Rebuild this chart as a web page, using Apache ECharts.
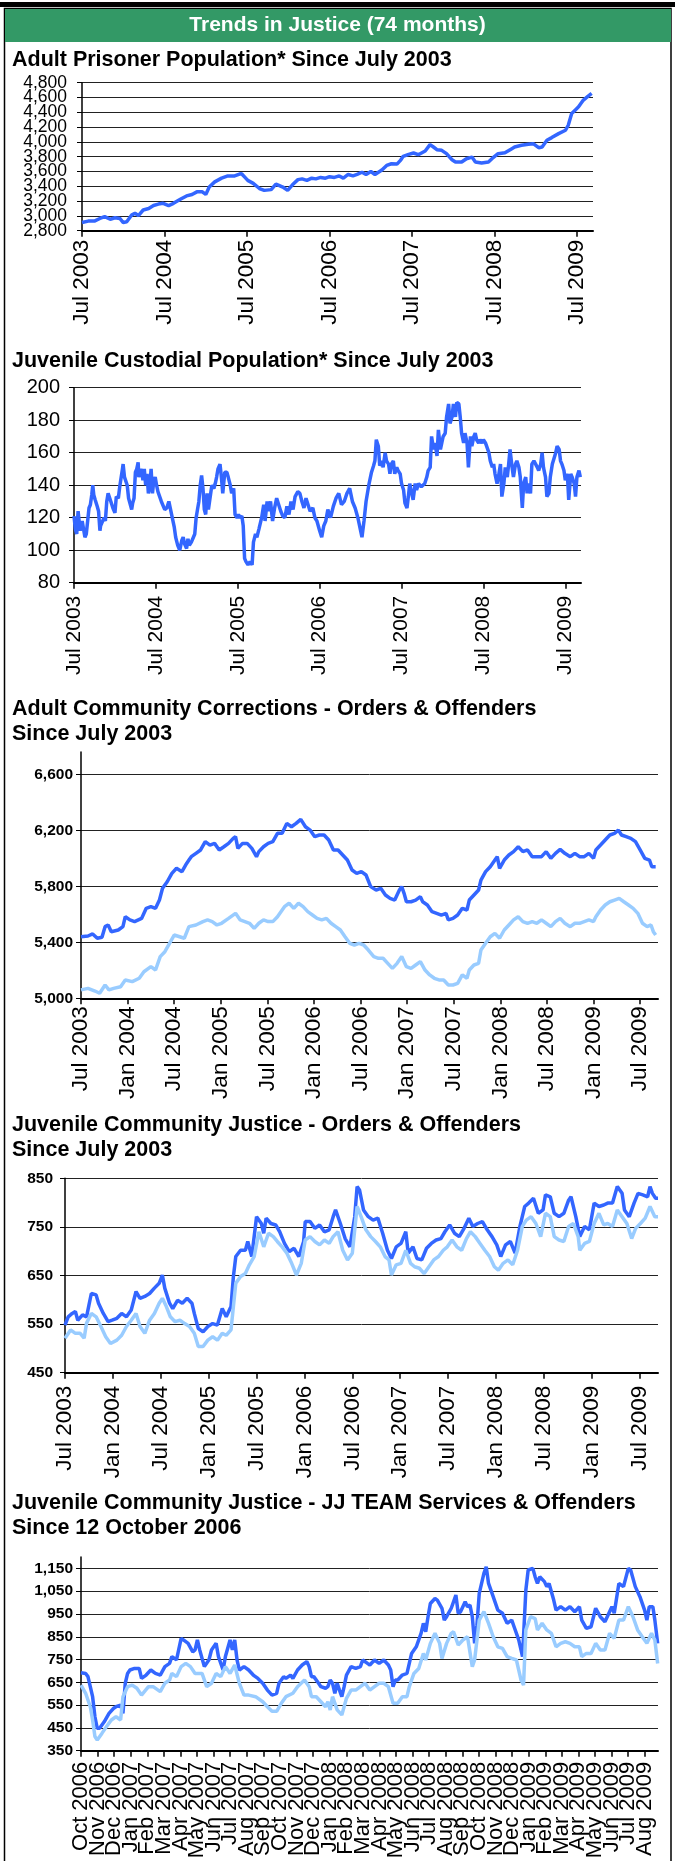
<!DOCTYPE html>
<html><head><meta charset="utf-8">
<script src="https://cdn.jsdelivr.net/npm/echarts@6/dist/echarts.min.js"></script>
<style>html,body{margin:0;padding:0;background:#fff}#c{width:675px;height:1861px}</style>
</head><body><div id="c"></div>
<script>
const FONT = "'Liberation Sans', Arial, Helvetica, sans-serif";
const DARK = '#3366FF', LIGHT = '#99CCFF';

// ---- axis tick labels ----
const yearTicks = [0, 12, 24, 36, 48, 60, 72];
const yearLabels = ['Jul 2003','Jul 2004','Jul 2005','Jul 2006','Jul 2007','Jul 2008','Jul 2009'];
const halfTicks = [0, 6, 12, 18, 24, 30, 36, 42, 48, 54, 60, 66, 72];
const halfLabels = ['Jul 2003','Jan 2004','Jul 2004','Jan 2005','Jul 2005','Jan 2006','Jul 2006','Jan 2007','Jul 2007','Jan 2008','Jul 2008','Jan 2009','Jul 2009'];
const monthTicks = [0,1,2,3,4,5,6,7,8,9,10,11,12,13,14,15,16,17,18,19,20,21,22,23,24,25,26,27,28,29,30,31,32,33,34];
const monthLabels = ['Oct 2006','Nov 2006','Dec 2006','Jan 2007','Feb 2007','Mar 2007','Apr 2007','May 2007','Jun 2007','Jul 2007','Aug 2007','Sep 2007','Oct 2007','Nov 2007','Dec 2007','Jan 2008','Feb 2008','Mar 2008','Apr 2008','May 2008','Jun 2008','Jul 2008','Aug 2008','Sep 2008','Oct 2008','Nov 2008','Dec 2008','Jan 2009','Feb 2009','Mar 2009','Apr 2009','May 2009','Jun 2009','Jul 2009','Aug 2009'];
const prisonTicks = [2800,3000,3200,3400,3600,3800,4000,4200,4400,4600,4800];
const prisonLabels = ['2,800','3,000','3,200','3,400','3,600','3,800','4,000','4,200','4,400','4,600','4,800'];
const custodyTicks = [80,100,120,140,160,180,200];
const accTicks = [5000,5400,5800,6200,6600];
const jcjTicks = [450,550,650,750,850];
const teamTicks = [350,450,550,650,750,850,950,1050,1150];

// ---- 1. Adult prisoner population (x = months since Jul 2003) ----
const prisonMonths = [0,0.9,1.8,2.6,3.3,4.1,4.8,5.5,6.0,6.5,7.2,7.7,8.2,8.9,9.7,10.4,11.1,11.8,12.6,13.3,14.3,15.2,16.0,16.7,17.5,18.0,18.5,19.3,20.3,21.2,22.2,22.9,23.2,23.7,24.1,24.9,25.8,26.5,27.5,28.2,29.2,29.9,30.6,31.4,32.0,32.7,33.4,34.0,34.7,35.4,36.0,36.7,37.4,38.0,38.7,39.4,40.0,40.7,41.3,42.0,42.6,43.6,44.3,45.0,45.8,46.3,46.7,47.5,48.2,48.9,49.9,50.6,51.1,51.6,52.3,53.0,53.8,54.3,55.2,55.9,56.7,57.2,58.1,59.1,59.6,60.5,61.5,62.5,62.9,63.9,64.9,65.6,66.4,66.9,67.6,68.3,69.3,70.3,70.7,71.2,71.7,72.2,72.9,73.6,74.1];
const prisonValues = [2910,2930,2930,2965,2990,2955,2975,2965,2910,2920,3010,3035,3005,3080,3100,3140,3160,3170,3140,3170,3225,3270,3290,3325,3325,3290,3390,3460,3510,3540,3540,3565,3570,3520,3480,3440,3370,3345,3355,3430,3390,3345,3420,3490,3500,3480,3510,3500,3520,3510,3530,3520,3540,3510,3560,3540,3560,3590,3560,3600,3560,3620,3682,3705,3700,3750,3805,3832,3850,3827,3877,3963,3931,3895,3886,3841,3759,3728,3728,3773,3795,3728,3714,3728,3773,3841,3854,3909,3931,3954,3967,3976,3922,3931,4022,4058,4112,4157,4225,4384,4429,4474,4565,4619,4655];

// ---- 2. Juvenile custodial population ----
const custodyMonths = [0,0.2,0.4,0.6,0.8,0.9,1.2,1.4,1.6,1.8,2.0,2.2,2.4,2.6,2.75,2.9,3.1,3.4,3.6,3.8,3.9,4.1,4.4,4.6,4.8,5.0,5.2,5.4,5.7,6.0,6.2,6.5,6.7,6.9,7.1,7.2,7.4,7.6,7.8,8.0,8.2,8.45,8.6,8.8,9.0,9.2,9.4,9.5,9.7,9.9,10.1,10.3,10.5,10.7,10.9,11.1,11.3,11.5,11.7,11.9,12.1,12.3,12.5,12.8,13.0,13.3,13.6,13.9,14.1,14.4,14.7,14.9,15.2,15.5,15.8,16.0,16.2,16.5,16.7,16.9,17.2,17.5,17.7,17.9,18.1,18.3,18.5,18.7,18.9,19.1,19.3,19.5,19.7,19.9,20.2,20.5,20.7,20.9,21.1,21.4,21.6,21.8,22.1,22.4,22.6,22.9,23.1,23.4,23.6,23.9,24.1,24.3,24.6,24.8,25.0,25.2,25.5,25.8,26.1,26.3,26.6,26.8,27.1,27.3,27.5,27.8,28.0,28.3,28.5,28.8,29.1,29.4,29.7,30.0,30.3,30.6,30.9,31.2,31.5,31.8,32.1,32.4,32.8,33.1,33.4,33.7,34.0,34.3,34.6,35.0,35.3,35.6,36.0,36.3,36.6,36.9,37.2,37.6,38.0,38.4,38.8,39.2,39.6,40.0,40.4,40.8,41.2,41.6,42.0,42.2,42.5,42.8,43.2,43.6,43.9,44.1,44.3,44.6,44.8,45.1,45.3,45.6,45.8,46.1,46.3,46.5,46.8,47.0,47.3,47.5,47.8,48.0,48.3,48.5,48.8,49.0,49.2,49.5,49.7,50.0,50.2,50.5,50.9,51.4,51.7,51.9,52.2,52.4,52.7,52.9,53.2,53.4,53.7,53.9,54.1,54.4,54.6,54.9,55.1,55.4,55.6,55.9,56.1,56.4,56.6,56.8,57.1,57.3,57.6,57.8,58.1,58.3,58.6,58.8,59.0,59.3,59.5,59.8,60.0,60.3,60.5,60.8,61.0,61.3,61.5,61.7,62.0,62.2,62.5,62.7,63.0,63.2,63.5,63.7,63.9,64.2,64.4,64.7,64.9,65.2,65.4,65.7,65.9,66.2,66.4,66.6,66.9,67.1,67.4,67.6,67.9,68.1,68.4,68.6,68.8,69.1,69.3,69.6,69.8,70.1,70.6,70.8,71.1,71.3,71.5,71.8,72.0,72.3,72.5,72.8,73.0,73.3,73.5,73.7,74.0,74.2];
const custodyValues = [121,113,110,124,116,112,118,113,108,110,109,126,128,134,140,134,131,127,124,112,115,117,120,118,130,135,135,130,126,123,133,132,139,140,150,153,145,146,140,132,131,125,129,132,148,150,154,145,148,150,143,150,140,147,135,139,150,135,143,145,140,136,135,130,131,125,126,130,126,120,114,108,103,100,106,108,104,101,107,103,105,108,110,120,125,130,140,146,138,125,122,135,125,126,140,138,141,145,150,153,145,135,148,148,145,140,135,138,122,120,122,120,121,115,95,93,91,93,91,105,110,108,113,112,120,128,118,130,124,130,118,126,132,128,124,121,120,127,122,130,125,133,136,135,130,126,132,128,124,126,120,118,112,108,115,118,125,120,127,132,135,128,130,135,138,130,126,120,112,108,118,130,140,148,152,155,168,164,152,155,151,160,155,153,147,153,155,147,151,149,147,141,137,129,126,133,141,135,131,141,137,141,139,141,145,149,151,170,162,166,158,174,162,166,170,172,182,190,178,182,190,182,191,190,182,172,166,172,166,151,170,164,170,172,168,166,168,166,168,166,166,160,155,151,153,147,141,145,153,133,141,151,145,153,162,151,145,153,155,151,145,126,141,145,135,141,135,153,155,155,151,149,153,160,151,145,133,135,145,153,160,164,162,155,153,149,143,147,131,147,145,141,133,145,149,145];

// ---- 3. Adult community corrections: orders (dark) & offenders (light) ----
const accOrderMonths = [0,0.9,1.5,2.1,2.7,3.1,3.5,3.9,4.8,5.4,5.7,6.3,6.9,7.8,8.4,9.0,9.6,10.1,10.5,11.1,11.7,12.3,13.0,13.6,13.9,14.2,14.8,15.4,16.0,16.6,17.2,17.8,18.4,19.0,19.6,19.9,20.2,20.8,21.4,22.0,22.6,22.9,23.5,24.1,24.7,25.3,25.9,26.5,27.1,27.7,28.3,28.9,29.5,30.1,30.7,31.3,31.9,32.5,33.1,33.7,34.3,34.9,35.5,36.1,36.7,37.3,38.0,38.6,39.2,39.8,40.4,41.0,41.3,41.6,41.9,42.5,43.1,43.7,44.0,44.6,45.2,45.8,46.4,47.0,47.3,47.9,48.5,49.1,49.7,50.0,50.6,51.2,51.5,52.1,52.7,53.3,53.6,53.9,54.5,55.1,55.7,56.3,56.9,57.5,58.1,58.7,59.3,59.9,60.5,61.1,61.7,62.3,63.0,63.6,64.2,64.8,65.4,66.0,66.3,66.9,67.5,68.1,68.7,69.2,69.6,70.2,70.8,71.4,72.0,72.6,73.2,73.5,74.0];
const accOrderValues = [5440,5445,5460,5429,5436,5512,5524,5476,5488,5512,5583,5560,5548,5571,5643,5655,5643,5702,5786,5833,5893,5929,5905,5964,5988,6012,6036,6060,6119,6095,6107,6060,6083,6107,6143,6155,6071,6107,6107,6071,6012,6048,6083,6107,6119,6179,6179,6250,6226,6250,6279,6226,6202,6155,6167,6167,6131,6060,6060,6024,5988,5917,5893,5905,5881,5798,5774,5786,5738,5714,5702,5774,5798,5750,5690,5690,5702,5726,5690,5667,5619,5607,5595,5607,5560,5571,5595,5643,5631,5702,5738,5774,5845,5905,5940,5988,6012,5929,5988,6024,6048,6083,6048,6060,6012,6012,6012,6048,6000,6036,6064,6036,6012,6036,6012,6012,6036,6000,6060,6095,6131,6167,6179,6202,6167,6155,6143,6119,6060,6000,5988,5940,5940];
const accOffenderMonths = [0,0.9,1.8,2.4,3.1,3.6,4.2,5.1,5.7,6.6,7.5,8.1,9.0,9.6,10.2,10.8,11.4,12.0,12.7,13.3,13.9,14.8,15.7,16.3,16.9,17.5,18.1,19.0,19.9,20.5,21.1,21.7,22.3,22.9,23.5,24.1,24.7,25.3,26.2,26.8,27.4,28.0,28.6,29.2,29.8,30.4,31.0,31.6,32.2,32.8,33.4,34.0,34.6,35.2,35.8,36.4,37.0,37.7,38.3,38.9,39.5,40.1,40.7,41.3,41.9,42.5,43.1,43.7,44.3,44.9,45.5,46.1,46.7,47.3,47.9,48.5,49.1,49.7,50.0,50.6,51.2,51.5,52.1,52.7,53.3,53.9,54.5,55.1,55.7,56.3,56.9,57.5,58.1,58.7,59.3,59.9,60.5,61.1,61.7,62.3,63.0,63.6,64.2,64.8,65.4,66.0,66.3,66.9,67.5,68.1,68.7,69.3,69.9,70.5,71.1,71.7,72.3,72.9,73.4,73.7,74.0];
const accOffenderValues = [5060,5071,5052,5036,5095,5060,5071,5083,5131,5119,5143,5190,5226,5202,5298,5333,5393,5452,5440,5429,5512,5524,5548,5560,5548,5524,5536,5571,5607,5560,5548,5536,5500,5536,5560,5548,5548,5583,5655,5679,5643,5679,5655,5619,5595,5571,5560,5571,5536,5512,5488,5440,5393,5381,5393,5381,5345,5298,5286,5286,5250,5214,5250,5298,5226,5214,5238,5262,5202,5167,5143,5131,5131,5095,5095,5107,5167,5143,5202,5238,5250,5345,5393,5440,5464,5429,5488,5524,5560,5583,5548,5536,5548,5536,5560,5536,5512,5548,5571,5536,5512,5536,5536,5548,5560,5548,5583,5631,5667,5690,5702,5714,5690,5667,5643,5607,5536,5512,5524,5476,5452];

// ---- 4. Juvenile community justice: orders (dark) & offenders (light) ----
const jcjOrderMonths = [0,0.4,0.9,1.3,1.6,2.2,2.7,3.0,3.3,3.9,4.2,4.8,5.4,5.9,6.5,7.1,7.7,8.3,8.9,9.4,10.0,10.6,11.2,11.8,12.2,12.5,13.1,13.5,14.1,14.7,15.3,15.9,16.2,16.7,17.3,17.9,18.5,19.1,19.7,20.2,20.8,21.1,21.4,22.0,22.6,22.9,23.4,24.0,24.6,24.9,25.2,25.8,26.4,26.9,27.5,28.1,28.7,29.3,29.9,30.1,30.7,31.3,31.9,32.5,33.1,33.6,33.9,34.5,35.1,35.7,36.3,36.6,36.9,37.4,38.0,38.6,39.2,39.8,40.4,40.9,41.5,42.1,42.7,43.0,43.6,44.1,44.7,45.3,45.9,46.5,47.1,47.6,48.2,48.8,49.4,50.0,50.6,51.1,51.7,52.3,52.9,53.5,54.1,54.6,55.2,55.8,56.4,57.0,57.6,58.1,58.7,59.3,59.9,60.2,60.8,61.3,61.9,62.5,63.1,63.4,64.0,64.5,65.1,65.7,66.3,66.9,67.5,68.0,68.6,69.2,69.8,70.1,70.7,71.3,71.8,72.4,73.0,73.3,73.6,74.0,74.3];
const jcjOrderValues = [548,565,572,576,558,569,565,589,613,610,593,572,555,558,562,572,565,579,617,603,607,613,624,634,651,624,593,582,599,593,603,593,572,541,534,545,551,548,582,565,586,648,689,702,702,720,689,771,757,737,768,757,754,740,716,699,706,689,720,761,761,747,754,740,744,771,785,757,726,709,771,833,826,785,771,764,768,737,702,685,709,716,740,696,709,685,682,706,716,723,726,740,754,737,730,747,768,751,757,761,744,730,713,689,713,720,696,751,792,799,809,778,785,816,812,778,771,778,805,812,771,730,751,744,799,792,795,799,799,833,819,785,771,799,819,816,812,833,819,809,809];
const jcjOffenderMonths = [0,0.7,1.3,1.9,2.4,2.7,3.3,3.9,4.5,5.1,5.7,6.5,7.1,7.7,8.3,8.9,9.4,10.0,10.6,11.2,11.8,12.2,12.7,13.2,13.8,14.4,15.0,15.6,16.2,16.7,17.3,17.9,18.5,19.1,19.7,20.2,20.8,21.4,22.0,22.6,23.1,23.7,24.3,24.9,25.5,26.1,26.6,27.2,27.8,28.4,29.0,29.6,30.1,30.7,31.3,31.9,32.5,33.1,33.6,34.2,34.8,35.4,36.0,36.6,37.1,37.7,38.3,38.9,39.5,40.1,40.6,40.9,41.5,42.1,42.7,43.3,43.8,44.4,45.0,45.6,46.2,46.8,47.4,47.9,48.5,49.1,49.7,50.3,50.8,51.4,52.0,52.6,53.2,53.8,54.3,54.9,55.5,56.1,56.7,57.3,57.8,58.4,59.0,59.6,60.2,60.8,61.3,61.9,62.5,63.1,63.7,64.3,64.5,65.1,65.7,66.3,66.9,67.5,68.0,68.6,69.2,69.8,70.4,71.0,71.5,72.1,72.7,73.3,73.9,74.3];
const jcjOffenderValues = [521,538,531,531,521,552,572,565,545,524,510,517,527,545,558,572,545,531,558,572,593,603,586,565,555,558,551,545,531,504,504,517,524,517,531,527,538,634,648,654,672,689,740,709,737,730,720,709,696,675,651,675,723,730,720,713,723,716,730,740,702,682,696,792,771,744,730,720,709,689,682,651,672,675,702,675,668,665,654,668,682,689,702,709,723,709,702,726,740,730,716,702,689,668,661,675,682,672,702,751,764,771,757,730,778,771,730,723,720,751,757,730,702,716,720,757,778,754,757,751,785,771,757,726,747,757,768,792,771,771];

// ---- 5. JJ TEAM services (dark) & offenders (light), x = months since Oct 2006 ----
const teamServiceMonths = [0,0.28,0.42,0.56,0.70,0.84,0.98,1.12,1.40,1.69,1.97,2.11,2.39,2.53,2.67,2.81,2.95,3.23,3.51,3.65,3.93,4.21,4.49,4.78,5.06,5.34,5.48,5.76,6.04,6.18,6.46,6.74,6.88,7.02,7.16,7.44,7.72,7.87,8.15,8.29,8.57,8.71,8.99,9.13,9.27,9.41,9.55,9.83,10.11,10.39,10.67,10.96,11.24,11.52,11.80,11.94,12.22,12.36,12.64,12.78,13.06,13.34,13.62,13.76,13.90,14.04,14.33,14.47,14.75,14.89,15.03,15.17,15.31,15.45,15.59,15.73,15.87,16.01,16.29,16.57,16.85,16.99,17.28,17.42,17.70,17.98,18.26,18.54,18.68,18.82,18.96,19.10,19.38,19.66,19.80,19.94,20.22,20.51,20.65,20.79,20.93,21.07,21.35,21.49,21.77,21.91,22.05,22.33,22.61,22.75,22.89,23.17,23.31,23.46,23.60,23.74,23.88,24.02,24.30,24.44,24.58,24.86,25.14,25.42,25.70,25.98,26.12,26.40,26.63,26.83,26.97,27.25,27.39,27.53,27.67,27.95,28.09,28.23,28.51,28.65,28.93,29.21,29.49,29.78,30.06,30.20,30.48,30.76,31.04,31.32,31.60,31.88,32.02,32.16,32.44,32.72,33.01,33.15,33.43,33.71,33.99,34.13,34.27,34.49,34.61,34.78];
const teamServiceValues = [692,689,675,631,587,499,448,448,477,514,536,543,550,514,646,689,704,711,711,667,682,704,689,682,719,733,763,749,843,836,821,784,792,836,792,719,749,792,821,763,704,763,836,792,836,749,704,719,704,682,667,646,616,594,602,646,675,667,682,667,704,726,741,719,675,675,646,631,624,631,660,646,602,646,616,587,631,682,719,711,719,748,733,726,748,733,748,726,704,631,660,660,682,689,733,777,806,865,909,872,938,996,1018,1011,975,923,938,975,1033,953,960,1004,982,989,938,821,901,1040,1128,1157,1084,1026,967,953,909,923,894,836,763,1055,1143,1150,1113,1084,1113,1092,1070,1084,1011,967,982,967,982,960,982,923,887,894,975,938,916,960,982,953,1084,1070,1150,1143,1070,1026,967,923,982,982,923,821];
const teamOffenderMonths = [0,0.28,0.56,0.70,0.84,0.98,1.26,1.54,1.83,2.11,2.39,2.53,2.81,3.09,3.37,3.65,4.07,4.35,4.78,5.06,5.34,5.48,5.76,6.04,6.32,6.60,6.88,7.30,7.58,7.87,8.15,8.43,8.71,8.99,9.27,9.55,9.83,10.11,10.53,10.96,11.24,11.52,11.80,12.08,12.36,12.78,13.06,13.48,13.76,13.90,14.19,14.47,14.75,14.89,15.03,15.17,15.45,15.73,16.01,16.29,16.57,16.85,17.13,17.42,17.70,17.98,18.26,18.54,18.82,19.10,19.38,19.66,19.80,20.08,20.37,20.65,20.79,21.07,21.35,21.63,21.77,22.05,22.33,22.47,22.75,23.03,23.31,23.60,23.74,24.02,24.30,24.58,24.86,25.14,25.42,25.70,25.98,26.26,26.54,26.69,26.83,27.11,27.39,27.53,27.81,28.09,28.37,28.65,28.93,29.21,29.49,29.78,30.06,30.20,30.48,30.76,31.04,31.32,31.60,31.88,32.16,32.44,32.72,33.01,33.29,33.57,33.85,34.13,34.41,34.61,34.78];
const teamOffenderValues = [638,602,543,485,412,397,426,456,485,499,485,587,631,638,624,594,631,631,609,646,660,689,675,719,733,719,689,689,631,646,689,675,719,689,726,646,594,594,587,565,543,523,523,558,587,602,631,660,631,587,587,565,543,565,529,587,529,507,580,616,616,631,646,616,631,646,646,631,558,558,587,587,631,689,711,777,748,821,865,821,755,821,865,872,814,836,850,719,748,923,960,909,850,806,799,763,755,748,660,638,880,938,930,880,909,880,865,806,821,828,821,806,806,763,777,777,821,792,792,865,843,923,923,982,938,880,850,821,865,836,733];

const zip = (xs, ys) => xs.slice(0, Math.min(xs.length, ys.length)).map((x, i) => [x, ys[i]]);

function xAxisDef(gridIndex, max, ticks, labels, fontSize, margin, showLabels) {
  return {
    type: 'value', gridIndex, min: 0, max,
    axisLine: { show: true, onZero: false, lineStyle: { color: '#000', width: 2 } },
    axisTick: { show: true, customValues: ticks, length: 6, lineStyle: { color: '#000', width: 1.5 } },
    axisLabel: {
      show: showLabels, customValues: ticks, rotate: 90, fontSize, fontFamily: FONT, color: '#000', margin,
      showMinLabel: true, showMaxLabel: true, hideOverlap: false,
      formatter: (v) => { const i = ticks.indexOf(v); return i >= 0 ? labels[i] : ''; }
    },
    splitLine: { show: false }
  };
}
function yAxisDef(gridIndex, min, max, ticks, fontSize, bold, margin, showLabels) {
  return {
    type: 'value', gridIndex, min, max,
    axisLine: { show: true, lineStyle: { color: '#000', width: 1.5 } },
    axisTick: { show: true, customValues: ticks, length: 5, lineStyle: { color: '#000', width: 1 } },
    axisLabel: {
      show: showLabels, customValues: ticks, fontSize, fontFamily: FONT, fontWeight: bold ? 'bold' : 'normal', color: '#000', margin,
      showMinLabel: true, showMaxLabel: true, hideOverlap: false,
      formatter: (v) => v.toLocaleString('en-US')
    },
    splitLine: { show: true, lineStyle: { color: '#222', width: 1 } }
  };
}
function lineSeries(idx, data, color) {
  return {
    type: 'line', xAxisIndex: idx, yAxisIndex: idx, data, showSymbol: false, symbol: 'none',
    lineStyle: { color, width: 3.5 }, itemStyle: { color }, clip: true, animation: false
  };
}
function chartTitle(text, top) {
  return { text, left: 12, top, padding: 0,
    textStyle: { fontFamily: FONT, fontSize: 21.5, fontWeight: 'bold', color: '#000', lineHeight: 25 } };
}

const frame = [
  { id: 'bar', type: 'rect', z: 0, shape: { x: 0, y: 2, width: 675, height: 5 }, style: { fill: '#000' } },
  { id: 'border', type: 'rect', z: 0, shape: { x: 4.5, y: 8.5, width: 666.5, height: 1870 }, style: { fill: 'none', stroke: '#000', lineWidth: 1.5 } },
  { id: 'head', type: 'rect', z: 0, shape: { x: 5, y: 9, width: 666, height: 33 }, style: { fill: '#339966' } }
];

const chart = echarts.init(document.getElementById('c'), null, { renderer: 'canvas', width: 675, height: 1861 });
chart.setOption({
  animation: false,
  backgroundColor: '#fff',
  graphic: frame,
  title: [
    { text: 'Trends in Justice (74 months)', left: 'center', top: 13, padding: 0,
      textStyle: { fontFamily: FONT, fontSize: 21, fontWeight: 'bold', color: '#fff', lineHeight: 24 } },
    chartTitle('Adult Prisoner Population* Since July 2003', 48),
    chartTitle('Juvenile Custodial Population* Since July 2003', 349),
    chartTitle('Adult Community Corrections - Orders & Offenders\nSince July 2003', 697),
    chartTitle('Juvenile Community Justice - Orders & Offenders\nSince July 2003', 1113),
    chartTitle('Juvenile Community Justice - JJ TEAM Services & Offenders\nSince 12 October 2006', 1491)
  ],
  grid: [
    { left: 82, top: 82.7, width: 511, height: 148, outerBoundsMode: 'none' },
    { left: 74, top: 387.7, width: 507, height: 195, outerBoundsMode: 'none' },
    { left: 81, top: 752, width: 577, height: 246.3, outerBoundsMode: 'none' },
    { left: 65, top: 1178.3, width: 593, height: 194.4, outerBoundsMode: 'none' },
    { left: 81, top: 1557, width: 577, height: 193.7, outerBoundsMode: 'none' }
  ],
  xAxis: [
    xAxisDef(0, 74.3, yearTicks, yearLabels, 22.5, 9, true),
    xAxisDef(1, 74.3, yearTicks, yearLabels, 21, 13, true),
    xAxisDef(2, 74.3, halfTicks, halfLabels, 22.5, 8, true),
    xAxisDef(3, 74.3, halfTicks, halfLabels, 22.5, 13, true),
    xAxisDef(4, 34.8, monthTicks, monthLabels, 22, 11, false)
  ],
  yAxis: [
    yAxisDef(0, 2800, 4800, prisonTicks, 17.5, false, 15, false),
    yAxisDef(1, 80, 200, custodyTicks, 20, false, 14, true),
    yAxisDef(2, 5000, 6760, accTicks, 15.5, true, 8, true),
    yAxisDef(3, 450, 850, jcjTicks, 15.5, true, 12, true),
    yAxisDef(4, 350, 1200, teamTicks, 15.5, true, 8, true)
  ],
  series: [
    lineSeries(0, zip(prisonMonths, prisonValues), DARK),
    lineSeries(1, zip(custodyMonths, custodyValues), DARK),
    lineSeries(2, zip(accOrderMonths, accOrderValues), DARK),
    lineSeries(2, zip(accOffenderMonths, accOffenderValues), LIGHT),
    lineSeries(3, zip(jcjOrderMonths, jcjOrderValues), DARK),
    lineSeries(3, zip(jcjOffenderMonths, jcjOffenderValues), LIGHT),
    lineSeries(4, zip(teamServiceMonths, teamServiceValues), DARK),
    lineSeries(4, zip(teamOffenderMonths, teamOffenderValues), LIGHT)
  ]
});

// Dense tick labels (the library would thin them out) placed through the axes' own scales.
const extraLabels = [];
prisonTicks.forEach((v, i) => {
  const p = chart.convertToPixel({ gridIndex: 0 }, [0, v]);
  extraLabels.push({ type: 'text', z: 10, x: p[0] - 15, y: p[1],
    style: { text: prisonLabels[i], font: '17.5px ' + FONT, fill: '#000',
      align: 'right', textAlign: 'right', verticalAlign: 'middle', textVerticalAlign: 'middle' } });
});
monthTicks.forEach((m, i) => {
  const p = chart.convertToPixel({ gridIndex: 4 }, [m, 350]);
  extraLabels.push({ type: 'text', z: 10, x: p[0], y: p[1] + 11, rotation: Math.PI / 2,
    style: { text: monthLabels[i], font: '22px ' + FONT, fill: '#000',
      align: 'right', textAlign: 'right', verticalAlign: 'middle', textVerticalAlign: 'middle' } });
});
chart.setOption({ graphic: frame.concat(extraLabels) });
</script></body></html>
